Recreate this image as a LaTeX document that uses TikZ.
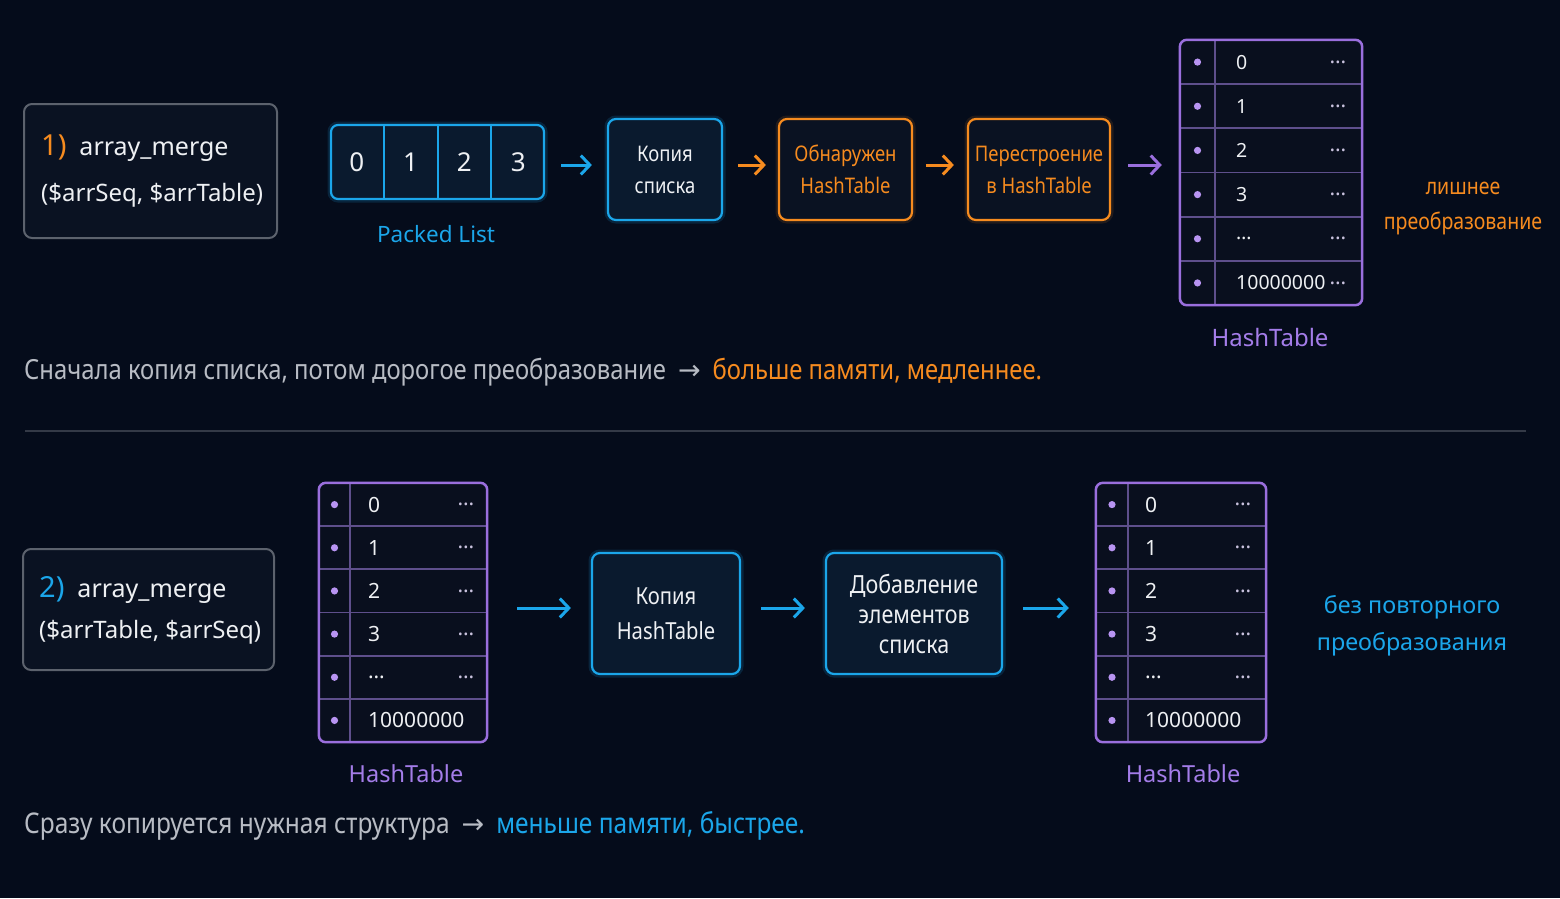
\documentclass[tikz,border=0pt]{standalone}
\usepackage{fontspec}
\setmainfont{Noto Sans}
\newfontfamily\cond{Noto Sans}[FakeStretch=0.86]
\newfontfamily\sym{DejaVu Sans}
\usetikzlibrary{arrows.meta,calc}

\definecolor{bg}{HTML}{050C1B}
\definecolor{boxfill}{HTML}{0A1222}
\definecolor{cyanfill}{HTML}{0A1A2E}
\definecolor{htfill}{HTML}{090F1E}
\definecolor{cyanc}{HTML}{1BA6EA}
\definecolor{orangec}{HTML}{F68B1F}
\definecolor{purplec}{HTML}{9A6FDD}
\definecolor{purplet}{HTML}{A47DE9}
\definecolor{purpleline}{HTML}{5E4F8C}
\definecolor{dotc}{HTML}{B894F2}
\definecolor{ellc}{HTML}{C9C2DE}
\definecolor{greyt}{HTML}{B8BCC4}
\definecolor{whitet}{HTML}{EEF0F3}
\definecolor{framec}{HTML}{5C626D}
\definecolor{rulec}{HTML}{343A47}

% sizes are given in pixels: one unit is one point
\newcommand\fsz[2]{\fontsize{#1}{#2}\selectfont}
\newcommand\rarr{\hspace{12pt}{\sym\fontsize{27}{28}\selectfont →}\hspace{12pt}}

% hash table: name, left, top, right, bottom, key column edge, value x, dots x, dots in last row (1/0)
\newcommand\hashtable[9]{%
  \node[htframe, minimum width={#4-#2}, minimum height={#5-#3}] (#1) at ({(#2+#4)/2},{(#3+#5)/2}) {};
  \foreach \i in {1,...,5}
    \draw[htline] ($(#1.north west)!\i/6!(#1.south west)$) -- ($(#1.north east)!\i/6!(#1.south east)$);
  \draw[htline] ($(#1.north west)+({#6-#2},0)$) -- ($(#1.south west)+({#6-#2},0)$);
  \draw[purplec, line width=2.5pt, rounded corners=7pt] (#1.north west) rectangle (#1.south east);
  \foreach \v [count=\i] in {0,1,2,3,…,10000000}{%
    \pgfmathsetmacro\yy{#3+(\i-0.5)*(#5-#3)/6}
    \fill[dotc] ({(#2+#6)/2},\yy) circle [radius=3.6pt];
    \node[htval] (#1v\i) at (#7,\yy) {\v};
    \pgfmathtruncatemacro\showdots{(\i<6)||(#9==1)}
    \ifnum\showdots=1 \node[htdots] (#1d\i) at (#8,\yy) {…};\fi
  }%
}

\begin{document}
\begin{tikzpicture}[x=1pt,y=-1pt,
  mainbox/.style={draw=framec, line width=2pt, rounded corners=8pt, fill=boxfill},
  boxtext/.style={anchor=west, inner sep=0pt, text=whitet, font=\fsz{25}{30}},
  glowc/.style={preaction={draw=cyanc, draw opacity=0.16, line width=7pt}},
  glowo/.style={preaction={draw=orangec, draw opacity=0.12, line width=7pt}},
  cyanbox/.style={draw=cyanc, line width=2.2pt, rounded corners=8pt, fill=cyanfill,
    text=whitet, align=center, glowc},
  orangebox/.style={draw=orangec, line width=2.2pt, rounded corners=8pt, fill=boxfill,
    text=orangec, align=center, glowo},
  plist/.style={draw=cyanc, line width=2.2pt, rounded corners=7pt, fill=cyanfill, glowc},
  digit/.style={text=whitet, font=\fsz{26}{30}},
  htframe/.style={fill=htfill, rounded corners=7pt, inner sep=0pt},
  htline/.style={draw=purpleline, line width=1.8pt},
  htval/.style={anchor=west, text=whitet, inner sep=0pt, font=\fsz{21}{24}},
  htdots/.style={text=ellc, inner sep=0pt, font=\bfseries\fsz{21}{22}},
  htlabel/.style={text=purplet, font=\fsz{23.5}{30}},
  arr/.style={line width=3pt, -{Straight Barb[length=9pt,width=19pt]}},
  caption/.style={anchor=west, inner sep=0pt},
]
\path[fill=bg] (0,0) rectangle (1560,898);

% heights of the two rows of arrows
\coordinate (row1) at (0,165);
\coordinate (row2) at (0,608);

% ---------- 1) array_merge($arrSeq, $arrTable)
\node[mainbox, minimum width=253, minimum height=134] (m1) at (150.5,171) {};
\node[boxtext] (m1a) at ($(m1.west)+(18,-23)$)
  {{\color{orangec}\bfseries\fsz{29}{30}1)}\ \ array\_merge};
\node[boxtext, font=\fsz{24}{30}] (m1b) at ($(m1.west)+(18,24)$) {(\$arrSeq, \$arrTable)};

% packed list
\node[plist, minimum width=213, minimum height=74] (pl) at (437.5,162) {};
\foreach \i in {1,2,3}
  \draw[cyanc, line width=2pt] ($(pl.north west)!\i/4!(pl.north east)$) -- ($(pl.south west)!\i/4!(pl.south east)$);
\foreach \d [evaluate=\d as \f using (\d+0.5)/4] in {0,1,2,3}
  \node[digit] (pl\d) at ($(pl.west)!\f!(pl.east)$) {\d};
\node[text=cyanc, font=\fsz{22.5}{30}] (pllabel) at (436,234) {Packed List};

% flow boxes
\node[cyanbox, minimum width=114, minimum height=101, font=\cond\fsz{21.5}{32}] (k1) at (665,169.5) {Копия\\списка};
\node[orangebox, minimum width=133, minimum height=101, font=\cond\fsz{21.5}{32}] (ob) at (845.5,169.5) {Обнаружен\\HashTable};
\node[orangebox, minimum width=142, minimum height=101, font=\cond\fsz{21.5}{32}] (per) at (1039,169.5) {Перестроение\\в HashTable};

\begin{scope}[htval/.append style={font=\fsz{19.5}{24}}]
\hashtable{ht1}{1180}{40}{1362}{305}{1215}{1236}{1338}{1}
\end{scope}
\node[htlabel, font=\fsz{24}{30}] (ht1l) at (1270,337) {HashTable};

\draw[arr, cyanc, shorten <=16pt, shorten >=15pt] (pl.east |- row1) -- (k1.west |- row1);
\draw[arr, orangec, shorten <=15pt, shorten >=12pt] (k1.east |- row1) -- (ob.west |- row1);
\draw[arr, orangec, shorten <=13pt, shorten >=13pt] (ob.east |- row1) -- (per.west |- row1);
\draw[arr, purplec, shorten <=17pt, shorten >=18pt] (per.east |- row1) -- (ht1.west |- row1);

\node[text=orangec, align=center, font=\cond\fsz{22.7}{35}] (note1) at (1463,208.5) {лишнее\\преобразование};

\node[caption, font=\cond\fsz{27.7}{32}] (cap1) at (24,372)
  {{\color{greyt}Сначала копия списка, потом дорогое преобразование\rarr}{\color{orangec}больше памяти, медленнее.}};

% separator
\coordinate (sepl) at (25,431);
\coordinate (sepr) at (1526,431);
\draw[rulec, line width=1.5pt] (sepl) -- (sepr);

% ---------- 2) array_merge($arrTable, $arrSeq)
\node[mainbox, minimum width=251, minimum height=121] (m2) at (148.5,609.5) {};
\node[boxtext] (m2a) at ($(m2.west)+(17,-20)$)
  {{\color{cyanc}\bfseries\fsz{29}{30}2)}\ \ array\_merge};
\node[boxtext, font=\fsz{24}{30}] (m2b) at ($(m2.west)+(17,23)$) {(\$arrTable, \$arrSeq)};

\hashtable{ht2}{319}{483}{487}{742}{350}{368}{466}{0}
\node[htlabel] (ht2l) at (406,774) {HashTable};

\node[cyanbox, minimum width=148, minimum height=121, font=\cond\fsz{23.5}{35}] (k2) at (666,613.5) {Копия\\HashTable};
\node[cyanbox, minimum width=176, minimum height=121, font=\cond\fsz{25}{30}] (dob) at (914,613.5) {Добавление\\элементов\\списка};

\hashtable{ht3}{1096}{483}{1266}{742}{1128}{1145}{1243}{0}
\node[htlabel] (ht3l) at (1183,774) {HashTable};

\draw[arr, cyanc, shorten <=30pt, shorten >=20pt] (ht2.east |- row2) -- (k2.west |- row2);
\draw[arr, cyanc, shorten <=20pt, shorten >=20pt] (k2.east |- row2) -- (dob.west |- row2);
\draw[arr, cyanc, shorten <=20pt, shorten >=27pt] (dob.east |- row2) -- (ht3.west |- row2);

\node[text=cyanc, align=center, font=\fsz{23.4}{37}] (note2) at (1412,626) {без повторного\\преобразования};

\node[caption, font=\cond\fsz{28.5}{32}] (cap2) at (24,826)
  {{\color{greyt}Сразу копируется нужная структура\rarr}{\color{cyanc}меньше памяти, быстрее.}};
\end{tikzpicture}
\end{document}
